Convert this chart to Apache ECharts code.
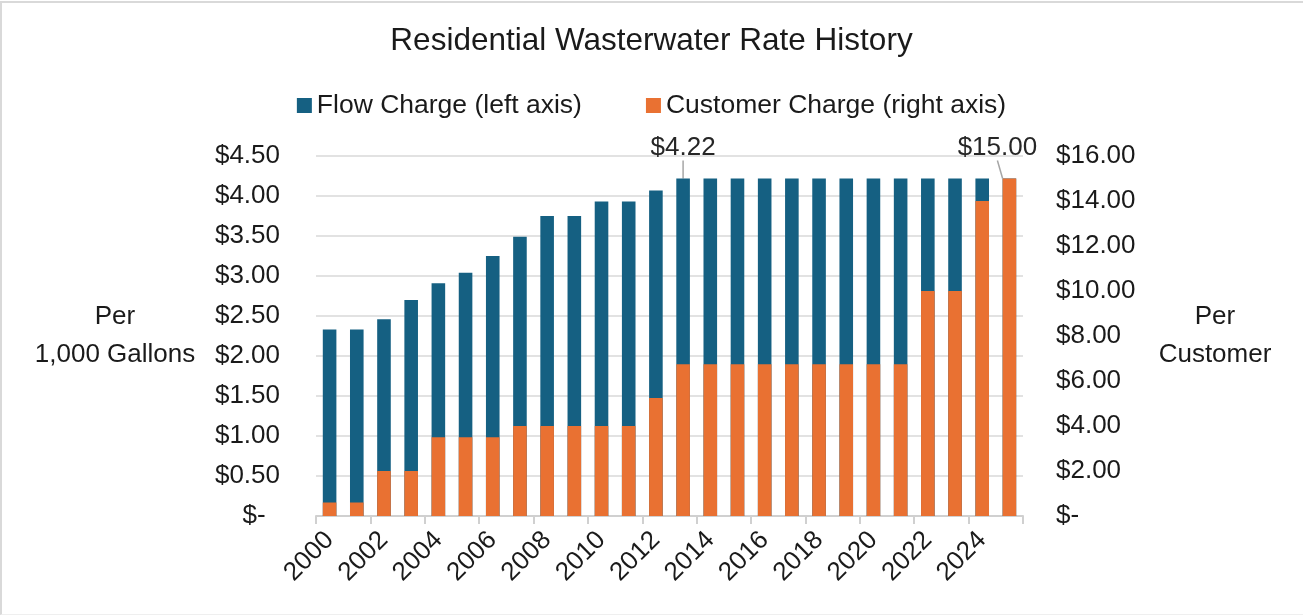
<!DOCTYPE html>
<html>
<head>
<meta charset="utf-8">
<title>Residential Wastewater Rate History</title>
<script src="https://cdn.jsdelivr.net/npm/echarts@6/dist/echarts.min.js"></script>
<style>
  html, body { margin: 0; padding: 0; background: #fff; }
  #chart { width: 1303px; height: 616px; }
  /* 外框线 */
  .frame {
    position: absolute; left: 0; top: 1px; width: 1303px; height: 614px;
    border-left: 2px solid #d9d9d9; border-top: 2px solid #d9d9d9;
    border-bottom: 1px solid #efefef; box-sizing: border-box; pointer-events: none;
  }
</style>
</head>
<body>
<div id="chart"></div>
<div class="frame"></div>
<script>
// --- 数据 ---
const years = ['2000', '2001', '2002', '2003', '2004', '2005', '2006', '2007', '2008',
  '2009', '2010', '2011', '2012', '2013', '2014', '2015', '2016', '2017', '2018',
  '2019', '2020', '2021', '2022', '2023', '2024', '2025'];

// per 1,000 gallons (left axis)
const flowCharge = [2.33, 2.33, 2.46, 2.70, 2.91, 3.04, 3.25, 3.49, 3.75, 3.75, 3.93, 3.93,
  4.07, 4.22, 4.22, 4.22, 4.22, 4.22, 4.22, 4.22, 4.22, 4.22, 4.22, 4.22, 4.22, 4.22];

// per customer (right axis)
const customerCharge = [0.60, 0.60, 2.00, 2.00, 3.50, 3.50, 3.50, 4.00, 4.00, 4.00, 4.00, 4.00,
  5.25, 6.75, 6.75, 6.75, 6.75, 6.75, 6.75, 6.75, 6.75, 6.75, 10.00, 10.00, 14.00, 15.00];

const leftTicks = { min: 0, max: 4.5, interval: 0.5 };
const rightTicks = { min: 0, max: 16, interval: 2 };

// 只标注这两个点
const flowLabelYear = '2013';
const customerLabelYear = '2025';

const BLUE = '#156082';
const ORANGE = '#E97132';
const TEXT = '#1a1a1a';
const FONT = 'Liberation Sans, Arial, sans-serif';

const money = v => (v === 0 ? '$-' : '$' + v.toFixed(2));

const chart = echarts.init(document.getElementById('chart'));

const labelStyle = {
  show: true,
  position: 'top',
  formatter: p => money(p.value),
  fontFamily: FONT,
  fontSize: 26,
  color: '#262626'
};

const nameStyle = {
  fontFamily: FONT, fontSize: 26, color: TEXT,
  align: 'center', verticalAlign: 'middle', lineHeight: 38
};

const option = {
  animation: false,
  title: {
    text: 'Residential Wasterwater Rate History',
    left: 'center',
    top: 25,
    padding: 0,
    textStyle: { fontFamily: FONT, fontSize: 31.5, fontWeight: 'normal', color: TEXT }
  },
  legend: {
    left: 'center',
    top: 92,
    padding: 0,
    itemWidth: 15,
    itemHeight: 15,
    itemGap: 64,
    icon: 'rect',
    textStyle: { fontFamily: FONT, fontSize: 26.5, color: TEXT },
    data: ['Flow Charge (left axis)', 'Customer Charge (right axis)']
  },
  grid: { left: 316, right: 280, top: 156, bottom: 100 },
  xAxis: {
    type: 'category',
    data: years,
    axisLine: { lineStyle: { color: '#d0d0d0', width: 2 } },
    axisTick: { show: true, length: 8, lineStyle: { color: '#d0d0d0', width: 2 } },
    axisLabel: {
      interval: 1,
      rotate: 45,
      margin: 20,
      fontFamily: FONT,
      fontSize: 26,
      color: TEXT
    }
  },
  yAxis: [
    {
      type: 'value',
      min: leftTicks.min,
      max: leftTicks.max,
      interval: leftTicks.interval,
      name: 'Per\n1,000 Gallons',
      nameLocation: 'middle',
      nameRotate: 0,
      nameGap: 201,
      nameTextStyle: nameStyle,
      axisLabel: {
        margin: 36,
        fontFamily: FONT,
        fontSize: 26,
        color: TEXT,
        formatter: v => (v === 0 ? '$-  ' : money(v))
      },
      splitLine: { lineStyle: { color: '#d9d9d9', width: 1.5 } }
    },
    {
      type: 'value',
      min: rightTicks.min,
      max: rightTicks.max,
      interval: rightTicks.interval,
      name: 'Per\nCustomer',
      nameLocation: 'middle',
      nameRotate: 0,
      nameGap: 192,
      nameTextStyle: nameStyle,
      axisLabel: {
        margin: 33,
        fontFamily: FONT,
        fontSize: 26,
        color: TEXT,
        formatter: money
      },
      splitLine: { show: false }
    }
  ],
  series: [
    {
      name: 'Flow Charge (left axis)',
      type: 'bar',
      yAxisIndex: 0,
      barWidth: '50%',
      barGap: '-100%',
      itemStyle: { color: BLUE },
      data: flowCharge.map((v, i) => (years[i] === flowLabelYear ? { value: v, label: labelStyle } : v)),
      labelLayout: { dy: -13 },
      labelLine: { show: true, lineStyle: { color: '#a6a6a6', width: 1.5 } }
    },
    {
      name: 'Customer Charge (right axis)',
      type: 'bar',
      yAxisIndex: 1,
      barWidth: '50%',
      barGap: '-100%',
      itemStyle: { color: ORANGE },
      data: customerCharge.map((v, i) => (years[i] === customerLabelYear ? { value: v, label: labelStyle } : v)),
      labelLayout: { dx: -12, dy: -13 },
      labelLine: { show: true, lineStyle: { color: '#a6a6a6', width: 1.5 } }
    }
  ]
};

chart.setOption(option);
</script>
</body>
</html>
